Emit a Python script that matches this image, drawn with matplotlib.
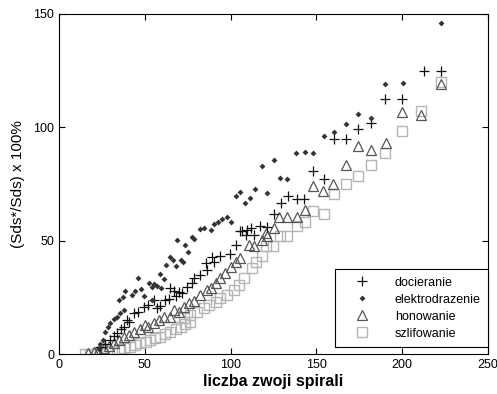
import numpy as np
import matplotlib
matplotlib.use("Agg")
import matplotlib.pyplot as plt

plt.rcParams['font.family'] = ['Liberation Sans', 'DejaVu Sans']

# docieranie (+)
doc_x = [24, 27, 29.9, 32, 33.8, 36, 37.7, 39.6, 41, 43.5, 46, 49.4, 52, 55.2, 57.2,
         59.1, 62, 63.9, 64.9, 66.9, 67.9, 70, 71.8, 74.3, 77.6, 78.5, 82, 85.4, 86.3,
         89.3, 90.2, 94.1, 99.5, 102.9, 105.4, 106.8, 108.7, 109.7, 111.6, 113.5, 117.4,
         121.4, 125.2, 129.1, 133.4, 138.9, 142.7, 148, 154.2, 160, 167, 174.4, 182,
         190, 200.1, 212.4, 222.5]
doc_y = [3.2, 4.5, 6.2, 8, 9.1, 11, 12.1, 15, 14, 18, 18.5, 20.9, 21.5, 23.9, 20.2,
         21.2, 24, 24.2, 29, 28, 25.4, 27.5, 27.1, 29.5, 31.3, 33.5, 35, 40.1, 37.2,
         42.8, 40.8, 43.4, 44.2, 48.2, 54.1, 54.1, 52.3, 54.6, 55.6, 52.3, 56.3,
         56, 61.9, 66.7, 69.9, 68.5, 68.5, 80.7, 77, 95, 95, 99.4, 102.1,
         112.7, 112.7, 124.9, 124.9]

# elektrodrazenie (dots)
ele_x = [23.1, 24.1, 25.7, 26.8, 28.4, 29.9, 31.9, 33.8, 34.8, 35.4, 37.1, 37.7, 38.7,
         42.6, 44.5, 46.1, 47.8, 49.4, 52.7, 54.3, 54.3, 55.2, 57.2, 59.1, 59.5, 61,
         62.6, 64.9, 66.5, 68, 68.8, 70.8, 72.3, 73.5, 75, 77.6, 78.5, 82, 84.4, 88.3,
         90.2, 92.9, 94.7, 98, 100, 103, 105.2, 108.1, 111.2, 114, 118, 121.4, 125.2,
         128.7, 133, 138.3, 143.3, 148, 154.4, 160, 167.2, 174.4, 182, 190, 200.5, 222.5]
ele_y = [2.2, 4.4, 6.2, 9.9, 11.8, 13.6, 15.4, 16.5, 23.9, 18, 25.1, 19.5, 28,
         26.1, 28, 33.5, 28.6, 25.4, 31.5, 23.9, 29.5, 30.7, 30.1, 35.1, 28.9, 33.3,
         39.2, 42.8, 41.6, 38.8, 50.1, 41.6, 40.6, 47.9, 44.8, 51.6, 50.8, 55.2, 55.4, 54.9,
         57.5, 58.4, 59.7, 60.5, 58.3, 69.9, 71.4, 66.5, 68.7, 72.9, 82.9, 71.1, 85.8,
         77.6, 77, 88.5, 89.2, 88.5, 96.2, 97.9, 101.6, 106.1, 104.3, 119.2, 119.6, 146]

# honowanie (triangles)
hon_x = [17, 20.2, 23, 26, 29, 31.9, 35, 37.7, 41, 43.5, 47, 50.3, 52, 55.2, 58, 61,
         64.9, 66.9, 69.8, 72.7, 75.6, 78.5, 82.4, 86.3, 88.3, 91.2, 94.1, 97, 100,
         102.9, 105.4, 110.6, 113.5, 118.4, 120.4, 121.4, 125.2, 128.1, 133, 138.4,
         143.1, 148, 154, 159.9, 167.2, 174.4, 181.6, 190.4, 200.1, 210.8, 222.5]
hon_y = [0.3, 1, 1.5, 2.5, 3.5, 4.7, 6, 7.7, 8.5, 9.9, 11, 12.8, 12, 13.6, 15, 16.5,
         16.5, 19.5, 18.7, 20.9, 22.4, 23.6, 26.1, 28.3, 29.1, 31.3, 33.5, 35.7, 38.4,
         40.8, 42.3, 48.2, 47.5, 50.4, 53.4, 52.2, 55.6, 60.3, 60.3, 60.3,
         63.4, 74, 71.8, 75.1, 83.3, 91.7, 90, 92.9, 106.6, 105.3, 119]

# szlifowanie (squares)
szl_x = [15.3, 18, 22.2, 25, 28, 31, 34.8, 38, 41.6, 44.5, 47.4, 50.5, 53.3, 56, 59.1,
         62, 64.9, 68, 70.8, 73.5, 76.6, 72.7, 76.6, 80.5, 84.4, 87.2, 91.2, 94.1, 98,
         101.9, 104.8, 107.7, 112.6, 114.5, 118.4, 120.4, 124.9, 128.7, 133, 138.4,
         143.3, 148.2, 154.4, 160, 167, 174.4, 182, 189.9, 200.1, 210.8, 222.5]
szl_y = [0, 0.2, 0.3, 0.6, 1, 1.5, 2.1, 2.6, 3.2, 4, 4.7, 5.5, 6.2, 7, 7.7,
         8.8, 9.9, 11, 12.1, 13.3, 14.3, 15.8, 17.3, 18.7, 20.2, 21.7, 23.1, 24.6, 26.1,
         28.3, 30.5, 33.5, 37.9, 40.4, 43.4, 47.5, 47.5, 51.9, 51.9, 56.3,
         58.1, 63, 61.8, 70.4, 75.1, 78.5, 83.3, 88.8, 98.4, 107.2, 120]

fig = plt.figure(figsize=(4.97, 3.94), dpi=100)
ax = fig.add_axes([0.1187, 0.1015, 0.8633, 0.863])

ax.plot(szl_x, szl_y, 's', mfc='none', mec='#b4b4b4', ms=6.5, mew=1.0, label='szlifowanie')
ax.plot(hon_x, hon_y, '^', mfc='none', mec='#555555', ms=7.5, mew=0.9, label='honowanie')
ax.plot(doc_x, doc_y, '+', color='#111111', ms=7.5, mew=0.9, label='docieranie')
ax.plot(ele_x, ele_y, 'D', color='#333333', ms=3.0, mew=0, label='elektrodrazenie')

ax.set_xlim(0, 250)
ax.set_ylim(0, 150)
ax.set_xticks([0, 50, 100, 150, 200, 250])
ax.set_yticks([0, 50, 100, 150])
ax.tick_params(direction='in', top=True, right=True, labelsize=9, length=4, width=0.8)
for s in ax.spines.values():
    s.set_linewidth(0.8)

ax.set_xlabel('liczba zwoji spirali', fontsize=11.5, fontweight='bold', labelpad=2)
ax.set_ylabel('(Sds*/Sds) x 100%', fontsize=11, labelpad=6)

h, l = ax.get_legend_handles_labels()
order = [2, 3, 1, 0]
leg = ax.legend([h[i] for i in order], [l[i] for i in order], loc='lower right',
                bbox_to_anchor=(1.0, 0.02), borderaxespad=0, fontsize=9,
                fancybox=False, edgecolor='black', framealpha=1,
                handletextpad=1.0, labelspacing=0.4, borderpad=0.6, handlelength=3.2)
leg.get_frame().set_linewidth(0.8)

fig.savefig('out.png', dpi=100)
